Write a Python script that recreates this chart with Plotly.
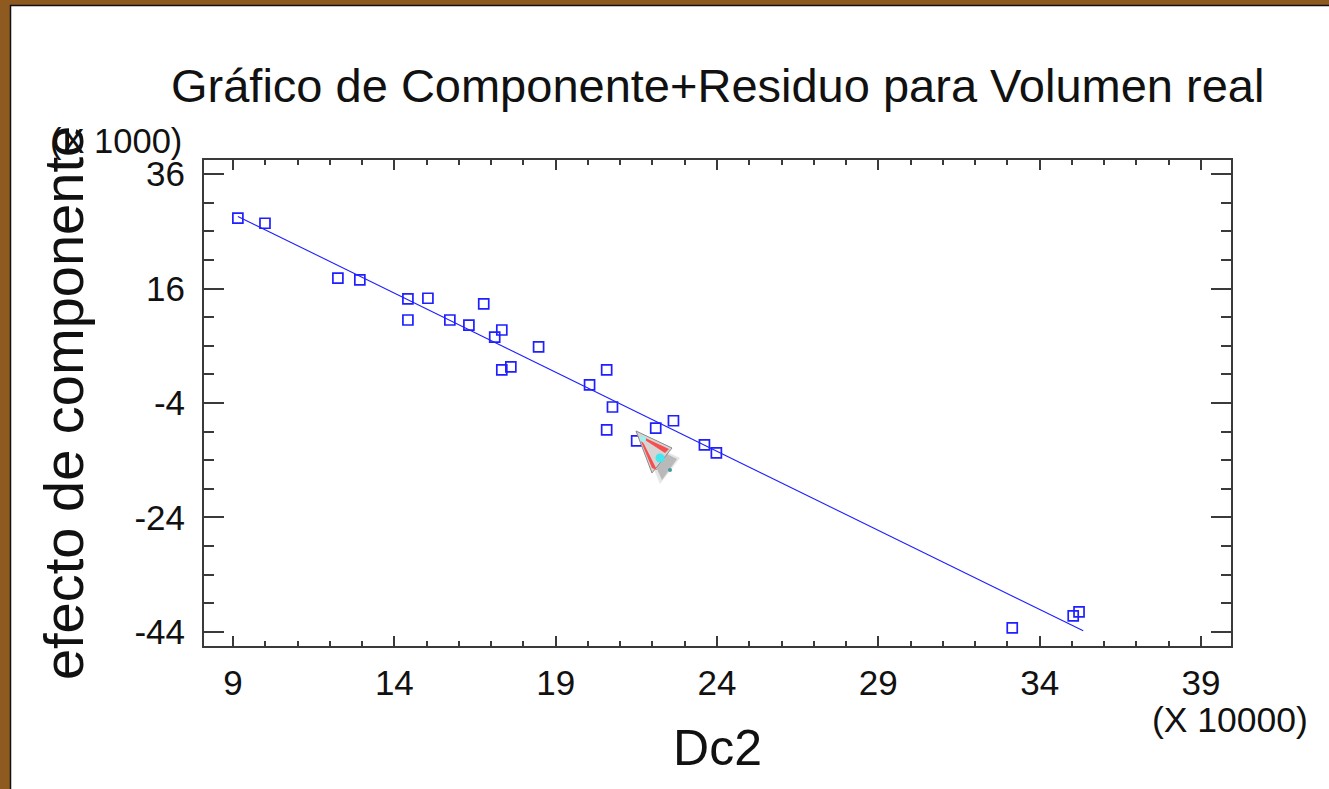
import plotly.graph_objects as go

W, H = 1329, 789
L, R, T, B = 204, 1231, 160, 646

dc2 = [9.15, 9.99, 12.25, 12.93, 14.42, 15.04, 14.42, 15.72, 16.31, 16.77, 17.33, 17.11, 18.47,
       17.33, 17.61, 20.05, 20.58, 20.76, 20.58, 21.51, 22.10, 22.65, 23.61, 23.98, 33.15, 35.04, 35.22]
efecto = [28.3, 27.4, 17.8, 17.5, 14.2, 14.3, 10.5, 10.5, 9.6, 13.3, 8.75, 7.5, 5.8,
          1.8, 2.3, -0.85, 1.8, -4.7, -8.7, -10.6, -8.4, -7.1, -11.3, -12.7, -43.3, -41.2, -40.5]
fit_x = [9.15, 35.35]
fit_y = [28.6, -43.8]
x_ticks = [9, 14, 19, 24, 29, 34, 39]
x_labels = ["9", "14", "19", "24", "29", "34", "39"]
y_ticks = [36, 16, -4, -24, -44]
y_labels = ["36", "16", "-4", "-24", "-44"]

FONT = "Liberation Sans, Arial, sans-serif"
AXIS = "#3a3a3a"
BLUE = "#1f1fff"


def px(x):
    return (x - L) / (R - L)


def py(y):
    return (B - y) / (B - T)


def poly(points):
    return "M " + " L ".join(f"{px(a):.5f} {py(b):.5f}" for a, b in points) + " Z"


def path_shape(points, fill, opacity=1.0, line=None):
    return dict(type="path", xref="paper", yref="paper", path=poly(points), fillcolor=fill,
                opacity=opacity, line=dict(width=1 if line else 0, color=line or fill), layer="above")


def dot(cx, cy, r, fill, opacity=1.0):
    return dict(type="circle", xref="paper", yref="paper", x0=px(cx - r), x1=px(cx + r),
                y0=py(cy + r), y1=py(cy - r), fillcolor=fill, opacity=opacity,
                line=dict(width=0), layer="above")


def text(s, x, y, size, xanchor="center", yanchor="middle", angle=0):
    return dict(text=s, xref="paper", yref="paper", x=px(x), y=py(y), xanchor=xanchor, yanchor=yanchor,
                showarrow=False, textangle=angle, font=dict(family=FONT, size=size, color="#111111"))


fig = go.Figure()
fig.add_trace(go.Scatter(x=fit_x, y=fit_y, mode="lines", line=dict(color=BLUE, width=1.1), showlegend=False))
fig.add_trace(go.Scatter(x=dc2, y=efecto, mode="markers", showlegend=False,
                         marker=dict(symbol="square-open", size=10, color=BLUE, line=dict(width=1.7, color=BLUE))))

shapes = [
    dict(type="rect", xref="paper", yref="paper", x0=px(10.5), x1=px(W + 5), y0=py(H + 5), y1=py(5.5),
         fillcolor="white", line=dict(color="#111111", width=1.5), layer="below"),
    # pointer cursor captured in the screenshot
    path_shape([(642, 440), (680, 458), (660, 484)], "#777777", 0.18),
    path_shape([(645, 443), (677, 459), (662, 480)], "#444444", 0.28),
    path_shape([(636, 431), (672, 448), (652, 473)], "#d8d4d4", 1, "#8a8a8a"),
    path_shape([(641, 436), (669, 449), (665, 453), (645, 440)], "#f45050"),
    path_shape([(640, 439), (644, 444), (657, 470), (652, 468)], "#f45050"),
    dot(643, 439, 3, "#9ff0f0"),
    dot(660, 458, 4.5, "#45e6ee"),
    dot(670, 470, 2, "#3f9a9a"),
]

annotations = [
    text("Gráfico de Componente+Residuo para Volumen real", 717, 86, 47),
    text("(X 1000)", 184, 141, 34.5, xanchor="right"),
    text("(X 10000)", 1230, 720, 35.5),
]

axis_common = dict(showline=True, linewidth=2, linecolor=AXIS, mirror="allticks", ticks="inside",
                   tickcolor=AXIS, tickwidth=1.5, showgrid=False, zeroline=False,
                   tickfont=dict(family=FONT, size=35, color="#111111"), tickmode="array")

fig.update_layout(
    width=W, height=H, autosize=False,
    margin=dict(l=L, r=W - R, t=T, b=H - B, pad=0),
    paper_bgcolor="#8f5a20", plot_bgcolor="rgba(0,0,0,0)",
    shapes=shapes, annotations=annotations,
    xaxis=dict(range=[8.1, 39.93], tickvals=x_ticks, ticktext=x_labels, ticklen=10, ticklabelstandoff=5,
               minor=dict(dtick=1, tick0=9, ticks="inside", ticklen=5, tickcolor=AXIS, tickwidth=1.5, showgrid=False),
               title=dict(text="Dc2", font=dict(family=FONT, size=50, color="#111111"), standoff=29),
               **axis_common),
    yaxis=dict(range=[-46.45, 38.45], tickvals=y_ticks, ticktext=y_labels, ticklen=20, ticklabelstandoff=10,
               minor=dict(dtick=5, tick0=-44, ticks="inside", ticklen=10, tickcolor=AXIS, tickwidth=1.5, showgrid=False),
               title=dict(text="efecto de componente", font=dict(family=FONT, size=56, color="#111111"), standoff=33),
               **axis_common),
)

fig.write_html("out.html", config=dict(displayModeBar=False),
               post_script="document.body.style.margin='0';document.body.style.overflow='hidden';")
